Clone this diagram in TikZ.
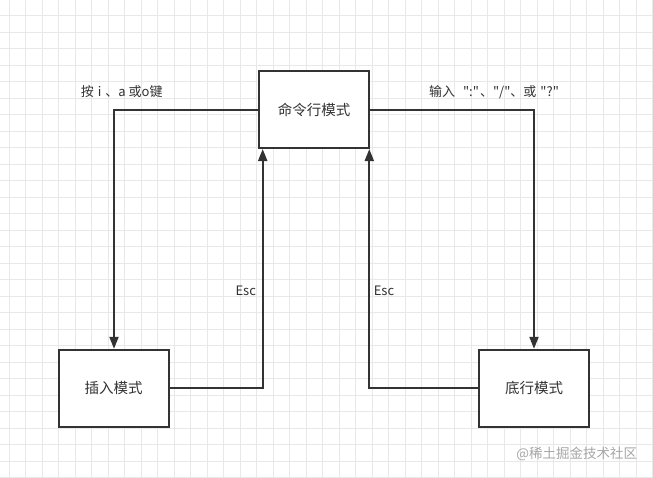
\documentclass[tikz,border=0pt]{standalone}
\usepackage{fontspec}
\newfontfamily\cjk{Noto Sans CJK SC}
\usetikzlibrary{arrows.meta}
\definecolor{gridc}{HTML}{E8E8E8}
\definecolor{linec}{HTML}{333333}
\tikzset{
  gridline/.style={draw=gridc, line width=0.8pt},
  modebox/.style={draw=linec, line width=2pt, fill=white, minimum width=110pt, minimum height=77pt, inner sep=0pt, font=\cjk\fontsize{14.5}{16}\selectfont, text=black!80},
  conn/.style={draw=linec, line width=2pt},
  arr/.style={conn, -{Triangle[length=12pt,width=9pt]}},
  lbl/.style={font=\cjk\fontsize{13}{15}\selectfont, text=black!80, inner sep=0pt},
  wm/.style={font=\cjk\fontsize{13.5}{15}\selectfont, text=black!35, inner sep=0pt}
}
\begin{document}
\begin{tikzpicture}[x=1pt,y=-1pt]
\path[fill=white] (0,0) rectangle (653,477);
\useasboundingbox (0,0) rectangle (653,477);
\foreach \k in {0,...,39} {\draw[gridline] ({9.3+16.5*\k},0) -- ({9.3+16.5*\k},477);}
\foreach \k in {0,...,28} {\draw[gridline] (0,{15.7+16.5*\k}) -- (653,{15.7+16.5*\k});}
\node[modebox] (cmd) at (314,109.5) {命令行模式};
\node[modebox] (ins) at (113.7,388.3) {插入模式};
\node[modebox] (bot) at (534,388.3) {底行模式};
\coordinate (c1) at (114,110);
\coordinate (c2) at (534,110);
\coordinate (c3) at (262.7,388);
\coordinate (c4) at (369.3,388);
\draw[arr] (cmd.west |- c1) -- (c1) -- (ins.north -| c1);
\draw[arr] (cmd.east |- c2) -- (c2) -- (bot.north -| c2);
\draw[arr] (ins.east |- c3) -- (c3) -- (cmd.south -| c3);
\draw[arr] (bot.west |- c4) -- (c4) -- (cmd.south -| c4);
\node[lbl] (l1) at (121.7,92) {按\hspace{4pt}i\hspace{4pt}、a\hspace{3pt}或o键};
\node[lbl] (l2) at (494,92) {输入\hspace{8pt}":"\hspace{1pt}、"/"、或\hspace{4pt}"?"};
\node[lbl] (e1) at (245.7,291) {Esc};
\node[lbl] (e2) at (384,291) {Esc};
\node[wm] (w) at (576.7,454) {@稀土掘金技术社区};
\end{tikzpicture}
\end{document}
